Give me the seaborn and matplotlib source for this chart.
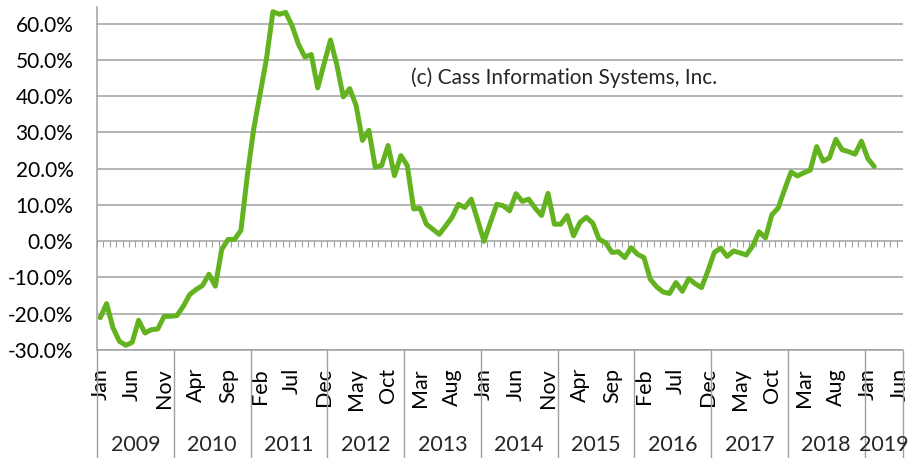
import numpy as np
import pandas as pd
import matplotlib.pyplot as plt
import seaborn as sns

sns.set_style("white")
plt.rcParams['font.family'] = ['Lato', 'DejaVu Sans']

# -----------------------------
# Data: year-over-year change, monthly, Jan 2009 .. Feb 2019
# -----------------------------
yoy_pct = [
    -21.1, -17.2, -23.9, -27.6, -28.7, -27.9, -21.8, -25.3, -24.4, -24.2, -20.7, -20.7,   # 2009
    -20.5, -17.9, -14.7, -13.3, -12.2, -9.1, -12.4, -2.2, 0.5, 0.5, 3.0, 18.1,            # 2010
    31.0, 40.7, 50.4, 63.3, 62.6, 63.1, 59.4, 54.3, 50.8, 51.5, 42.3, 49.0,               # 2011
    55.5, 48.6, 39.8, 42.1, 37.5, 27.8, 30.6, 20.4, 20.9, 26.4, 18.1, 23.6,               # 2012
    20.9, 8.9, 9.1, 4.7, 3.3, 1.9, 4.2, 6.6, 10.2, 9.3, 11.6, 5.8,                        # 2013
    0.0, 5.2, 10.2, 9.8, 8.4, 13.1, 11.0, 11.6, 9.1, 7.1, 13.2, 4.7,                      # 2014
    4.7, 7.1, 1.5, 5.2, 6.6, 5.0, 0.5, -0.4, -3.1, -2.9, -4.5, -1.8,                      # 2015
    -3.6, -4.5, -10.5, -12.6, -14.0, -14.4, -11.4, -13.8, -10.3, -11.7, -12.8, -8.2,      # 2016
    -3.1, -1.9, -4.2, -2.7, -3.2, -3.8, -1.3, 2.6, 0.9, 7.3, 9.2, 14.3,                   # 2017
    19.1, 18.0, 18.9, 19.6, 26.1, 22.1, 23.0, 28.1, 25.2, 24.7, 24.0, 27.6,               # 2018
    22.8, 20.6,                                                                           # 2019
]
years = list(range(2009, 2020))
n_slots = 126            # category axis runs Jan 2009 .. Jun 2019
label_every = 5          # month label on every 5th category
credit = "(c) Cass Information Systems, Inc."

months = pd.period_range('2009-01', periods=n_slots, freq='M')
df = pd.DataFrame({'pos': np.arange(len(yoy_pct)), 'yoy': yoy_pct})

grid_col = '#A0A0A0'

# -----------------------------
# Plot
# -----------------------------
fig = plt.figure(figsize=(9.09, 4.58), dpi=100)
ax = fig.add_axes([97 / 909, 1 - 350 / 458, 806 / 909, 343 / 458])

sns.lineplot(data=df, x='pos', y='yoy', color='#63B320', lw=3.6, ax=ax)
ax.set_xlabel('')
ax.set_ylabel('')

ax.set_xlim(-0.5, n_slots - 0.5)
ax.set_ylim(-30, 64.6)

# y axis
yt = np.arange(-30, 61, 10)
ax.set_yticks(yt, [f'{v:.1f}%' for v in yt])
ax.tick_params(axis='y', length=0, pad=17, labelsize=15, labelcolor='black')
ax.yaxis.grid(True, color=grid_col, lw=1.1)
ax.set_axisbelow(True)

for s in ['top', 'right']:
    ax.spines[s].set_visible(False)
for s in ['left', 'bottom']:
    ax.spines[s].set_color(grid_col)
    ax.spines[s].set_linewidth(1.1)

# month labels and category separators
lab_pos = np.arange(0, n_slots, label_every)
ax.set_xticks(lab_pos, [months[i].strftime('%b') for i in lab_pos], rotation=90)
ax.set_xticks(np.arange(-0.5, n_slots), minor=True)
ax.tick_params(axis='x', which='major', length=0, pad=13, labelsize=15.5, labelcolor='black')
ax.tick_params(axis='x', which='minor', length=43, width=0.8, color=grid_col, direction='out')

# small tick marks along the zero line
ax.vlines(np.arange(-0.5, n_slots), -1.7, 0, colors=grid_col, lw=0.8, zorder=1)

# year band
trans = ax.get_xaxis_transform()
bounds = [-0.5 + 12 * k for k in range(len(years))] + [n_slots - 0.5]
ax.vlines(bounds, -108 / 343, 0, colors=grid_col, lw=1.0, transform=trans, clip_on=False)
for k, yr in enumerate(years):
    ax.text((bounds[k] + bounds[k + 1]) / 2, -95 / 343, str(yr), transform=trans,
            ha='center', va='center', fontsize=15.5)

ax.text(0.579, 0.793, credit, transform=ax.transAxes, ha='center', va='center', fontsize=15)

fig.savefig('out.png', dpi=100)
